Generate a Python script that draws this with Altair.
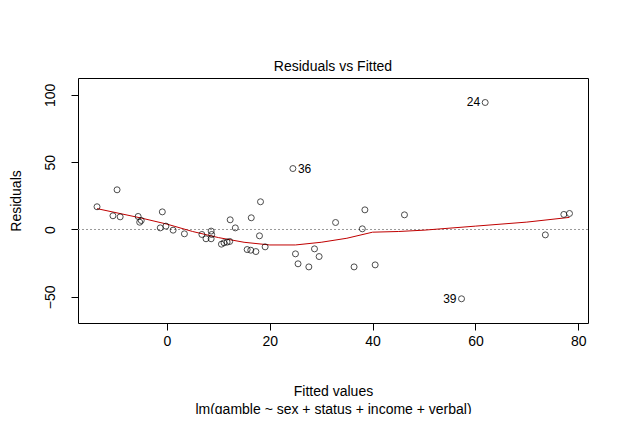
import altair as alt
import pandas as pd

fitted = [-13.6,-9.7,-10.5,-9.1,-5.6,-5.3,-5.0,-0.9,-1.3,-0.2,1.2,3.4,6.8,7.6,8.6,8.7,8.6,10.6,11.1,11.7,12.2,12.3,13.3,15.6,16.3,17.3,16.4,18.2,18.0,19.1,24.5,
          25.0,25.5,27.6,28.7,29.6,32.8,36.4,38.0,38.5,40.5,46.2,73.6,77.2,78.3,57.3,61.9]
resid = [16.9,29.5,10.2,9.4,9.7,5.4,6.7,13.1,1.2,2.5,-0.5,-3.2,-3.7,-6.9,-1.2,-3.7,-6.9,-10.9,-9.9,-9.4,-8.9,7.2,1.2,-14.9,-15.4,-16.4,8.7,20.6,-4.7,-12.9,45.3,
         -18.1,-25.5,-27.8,-14.4,-20.1,5.2,-27.8,0.5,14.6,-26.3,10.9,-4.0,11.2,11.9,-51.5,94.4]
smooth_x = [-13.6,-5,0,5,10,15,20,25,30,35,40,45,50,60,70,78.3]
smooth_y = [15.5,8.5,4.0,-1.5,-6.0,-9.5,-11.5,-11.5,-9.5,-6.5,-2.0,-1.5,-0.5,2.5,5.5,9.0]
lab_x = [24.5,61.9,57.3]
lab_y = [45.3,94.4,-51.5]
lab_t = ["36","24","39"]

df = pd.DataFrame({"x": fitted, "y": resid})
sm = pd.DataFrame({"x": smooth_x, "y": smooth_y})
lb = pd.DataFrame({"x": lab_x, "y": lab_y, "t": lab_t})

F = "Liberation Sans"
xs = alt.Scale(domain=[-17.3, 81.9], nice=False, zero=False)
ys = alt.Scale(domain=[-69.5, 112.6], nice=False, zero=False)
xax = alt.Axis(values=[0,20,40,60,80], title=["Fitted values", "lm(gamble ~ sex + status + income + verbal)"],
               grid=False, domain=False, tickColor="black", tickSize=7, labelFontSize=14, labelColor="black",
               labelFont=F, titleFont=F, titleFontSize=14, titleFontWeight="normal", titleColor="black",
               titlePadding=36, labelPadding=4, titleLineHeight=18)
yax = alt.Axis(values=[-50,0,50,100], title="Residuals", grid=False, domain=False, tickColor="black",
               tickSize=7, labelFontSize=14, labelColor="black", labelAngle=-90, labelAlign="center",
               labelBaseline="bottom", labelPadding=14, labelFont=F, titleFont=F, titleFontSize=14,
               titleFontWeight="normal", titleColor="black", titlePadding=20)

zero = alt.Chart(pd.DataFrame({"y": [0]})).mark_rule(color="#999999", strokeDash=[2, 2], strokeWidth=1).encode(
    y=alt.Y("y:Q", scale=ys))
pts = alt.Chart(df).mark_point(shape="circle", size=36, color="black", strokeWidth=1, filled=False).encode(
    x=alt.X("x:Q", scale=xs, axis=xax), y=alt.Y("y:Q", scale=ys, axis=yax))
line = alt.Chart(sm).mark_line(color="#c00000", strokeWidth=1).encode(
    x=alt.X("x:Q", scale=xs), y=alt.Y("y:Q", scale=ys))
lab36 = alt.Chart(lb.iloc[[0]]).mark_text(align="left", dx=5, font=F, fontSize=12, color="black").encode(
    x=alt.X("x:Q", scale=xs), y=alt.Y("y:Q", scale=ys), text="t:N")
labR = alt.Chart(lb.iloc[[1, 2]]).mark_text(align="right", dx=-5, font=F, fontSize=12, color="black").encode(
    x=alt.X("x:Q", scale=xs), y=alt.Y("y:Q", scale=ys), text="t:N")

chart = alt.layer(zero, line, pts, lab36, labR).properties(
    width=510, height=245,
    title=alt.TitleParams("Residuals vs Fitted", font=F, fontSize=14, fontWeight="normal", color="black", offset=4),
    autosize="none", padding={"left": 70, "top": 70, "right": 33, "bottom": 91},
    background="white"
).configure_view(stroke="black", strokeWidth=1)

chart.save("out.html", embed_options={"renderer": "svg", "actions": False})
